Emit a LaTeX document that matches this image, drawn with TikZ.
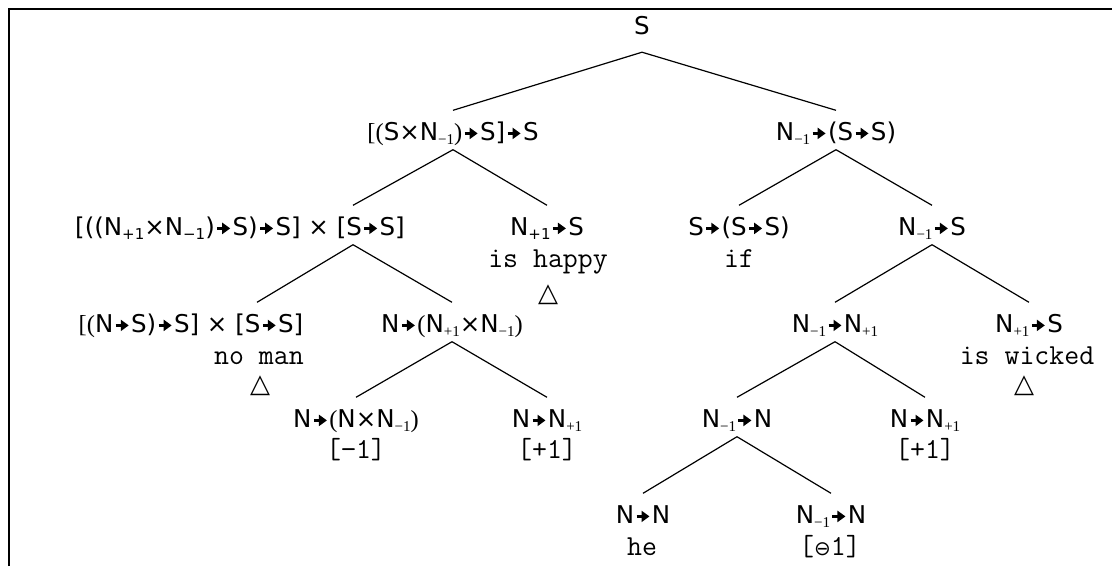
\documentclass[tikz,border=0pt]{standalone}
\usepackage{fontspec}
\setmainfont{DejaVu Sans}
\newfontfamily\serf{Liberation Serif}
\newfontfamily\dvs{DejaVu Sans}
\usetikzlibrary{arrows.meta,calc}
\newcommand{\ra}{\kern1pt\tikz[baseline=0pt]\draw[line width=2.8pt,-{Triangle[length=8pt,width=11pt]}] (0pt,6.6pt)--(13pt,6.6pt);\kern1pt}
\newcommand{\sbs}[1]{\raisebox{-4pt}{\fontsize{15}{15}\serf #1}}
\newcommand{\ssb}[1]{\raisebox{-4pt}{\fontsize{15}{15}\selectfont #1}}
\tikzset{
  cat/.style={anchor=base, inner sep=0pt, text height=29.5pt, text depth=9.5pt, font=\fontsize{24.5}{28}\selectfont},
  word/.style={anchor=base, inner sep=0pt, font=\fontsize{29}{30}\ttfamily},
  tri/.style={anchor=north, inner sep=0pt, font=\fontsize{26}{28}\dvs},
  edge/.style={line width=1.2pt},
  frame/.style={line width=2.3pt}
}
\begin{document}
\begin{tikzpicture}[x=1pt,y=-1pt]
\useasboundingbox (0,0) rectangle (1112,566);
\draw[frame] (9.2,566) -- (9.2,9.2) -- (1112,9.2);
% row 0
\node[cat, text depth=18pt] (r) at (642,34) {S};
% row 1
\node[cat] (a) at (453,140) {{\serf[(}S×N\sbs{−1}{\serf)}\ra S]\ra S};
\node[cat] (b) at (836,140) {N\sbs{−1}\ra(S\ra S)};
% row 2
\node[cat] (c) at (240,235) {[((N\ssb{+1}×N\ssb{−1})\ra S)\ra S] × [S\ra S]};
\node[cat] (d) at (547,235) {N\ssb{+1}\ra S};
\node[cat] (e) at (739,235) {S\ra(S\ra S)};
\node[cat] (f) at (932,235) {N\sbs{−1}\ra S};
\node[word] (wd) at (548,267) {is happy};
\node[word] (we) at (739,267) {if};
\node[tri] (td) at (548,285) {△};
% row 3
\node[cat] (g) at (191,332) {{\serf[(}N\ra S)\ra S] × [S\ra S]};
\node[cat] (h) at (452,332) {N\ra{\serf(}N\sbs{+1}×N\sbs{−1}{\serf)}};
\node[cat] (i) at (835,332) {N\sbs{−1}\ra N\sbs{+1}};
\node[cat] (j) at (1029,332) {N\sbs{+1}\ra S};
\node[word] (wg) at (259,364) {no man};
\node[word] (wj) at (1027,364) {is wicked};
\node[tri] (tg) at (260,376) {△};
\node[tri] (tj) at (1024,376) {△};
% row 4
\node[cat] (k) at (356,427) {N\ra{\serf(}N×N\sbs{−1}{\serf)}};
\node[cat] (l) at (547,427) {N\ra N\sbs{+1}};
\node[cat] (m) at (737,427) {N\sbs{−1}\ra N};
\node[cat] (n) at (925,427) {N\ra N\sbs{+1}};
\node[word] (wk) at (356,458) {[−1]};
\node[word] (wl) at (547,458) {[+1]};
\node[word] (wn) at (925,458) {[+1]};
% row 5
\node[cat] (o) at (643,523) {N\ra N};
\node[cat] (p) at (831,523) {N\sbs{−1}\ra N};
\node[word] (wo) at (642,555) {he};
\node[word] (wp) at (830,555) {[{\dvs\fontsize{20}{22}\selectfont ⊖}1]};
% edges
\draw[edge] (r.south) -- (a.north);
\draw[edge] (r.south) -- (b.north);
\draw[edge] (a.south) -- ([xshift=113pt]c.north);
\draw[edge] (a.south) -- (d.north);
\draw[edge] ([xshift=113pt]c.south) -- ([xshift=66pt]g.north);
\draw[edge] ([xshift=113pt]c.south) -- (h.north);
\draw[edge] (b.south) -- (e.north);
\draw[edge] (b.south) -- (f.north);
\draw[edge] (f.south) -- (i.north);
\draw[edge] (f.south) -- (j.north);
\draw[edge] (h.south) -- (k.north);
\draw[edge] (h.south) -- (l.north);
\draw[edge] (i.south) -- (m.north);
\draw[edge] (i.south) -- (n.north);
\draw[edge] (m.south) -- (o.north);
\draw[edge] (m.south) -- (p.north);
\end{tikzpicture}
\end{document}
